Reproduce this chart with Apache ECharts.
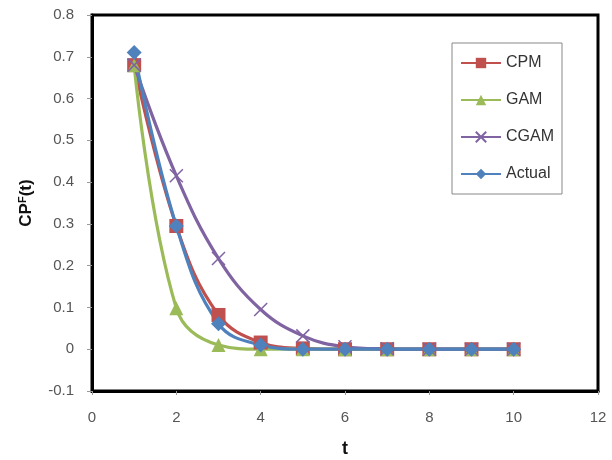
<!DOCTYPE html>
<html>
<head>
<meta charset="utf-8">
<script src="https://cdn.jsdelivr.net/npm/echarts@6/dist/echarts.min.js"></script>
<style>
  html, body { margin: 0; padding: 0; background: #fff; }
  #chart { width: 612px; height: 460px; }
</style>
</head>
<body>
<div id="chart"></div>
<script>
// values
const t = [1, 2, 3, 4, 5, 6, 7, 8, 9, 10]
const cpm = [0.68, 0.295, 0.082, 0.016, 0.002, 0, 0, 0, 0, 0]
const gam = [0.68, 0.098, 0.01, 0, 0, 0, 0, 0, 0, 0]
const cgam = [0.68, 0.415, 0.217, 0.095, 0.032, 0.006, 0.001, 0, 0, 0]
const actual = [0.71, 0.295, 0.061, 0.01, 0, 0, 0, 0, 0, 0]

const font = 'Liberation Sans'
const pairs = (ys) => t.map((x, i) => [x, ys[i]])

const mkSeries = (name, ys, color, symbol, size, extra) => Object.assign({
  name: name,
  type: 'line',
  data: pairs(ys),
  smooth: 0.4,
  symbol: symbol,
  symbolSize: size,
  lineStyle: { color: color, width: 3.2 },
  itemStyle: { color: color },
  emphasis: { disabled: true }
}, extra || {})

const c = echarts.init(document.getElementById('chart'))
c.setOption({
  animation: false,
  textStyle: { fontFamily: font },
  grid: {
    left: 92, right: 14, top: 15, bottom: 69,
    outerBoundsMode: 'none', containLabel: false,
    show: true, borderColor: '#000', borderWidth: 3
  },
  legend: {
    orient: 'vertical',
    left: 452, top: 43,
    padding: [12, 8, 12, 8],
    itemWidth: 40, itemHeight: 13, itemGap: 21,
    borderColor: '#888', borderWidth: 1,
    textStyle: { fontSize: 16, color: '#333', fontFamily: font },
    data: ['CPM', 'GAM', 'CGAM', 'Actual']
  },
  xAxis: {
    type: 'value', min: 0, max: 12, interval: 2,
    name: 't', nameLocation: 'middle', nameGap: 49,
    nameTextStyle: { fontSize: 18, fontWeight: 'bold', color: '#111' },
    axisLine: { show: true, onZero: false, lineStyle: { color: '#000', width: 3 } },
    axisTick: { show: true, length: 4, lineStyle: { color: '#999' } },
    axisLabel: { fontSize: 15, color: '#555', margin: 19 },
    splitLine: { show: false }
  },
  yAxis: {
    type: 'value', min: -0.1, max: 0.8, interval: 0.1,
    name: '{a|CP}{b|F}{a|(t)}', nameLocation: 'middle', nameGap: 56, nameRotate: 90,
    nameTextStyle: {
      rich: {
        a: { fontSize: 17, fontWeight: 'bold', color: '#111', fontFamily: font },
        b: { fontSize: 11, fontWeight: 'bold', color: '#111', fontFamily: font, verticalAlign: 'top', padding: [0, 0, 8, 0] }
      }
    },
    axisLine: { show: true, lineStyle: { color: '#000', width: 3 } },
    axisTick: { show: true, length: 5, lineStyle: { color: '#999' } },
    axisLabel: {
      fontSize: 15, color: '#555', margin: 18,
      formatter: (v) => Math.abs(v) < 1e-9 ? '0' : v.toFixed(1)
    },
    splitLine: { show: false }
  },
  series: [
    mkSeries('CPM', cpm, '#C0504D', 'rect', 14),
    mkSeries('GAM', gam, '#9BBB59', 'triangle', 14),
    mkSeries('CGAM', cgam, '#8064A2', 'path://M0,0L10,10M10,0L0,10', 13, {
      itemStyle: { color: 'none', borderColor: '#8064A2', borderWidth: 1.5 }
    }),
    mkSeries('Actual', actual, '#4F81BD', 'diamond', 15)
  ]
})
</script>
</body>
</html>
